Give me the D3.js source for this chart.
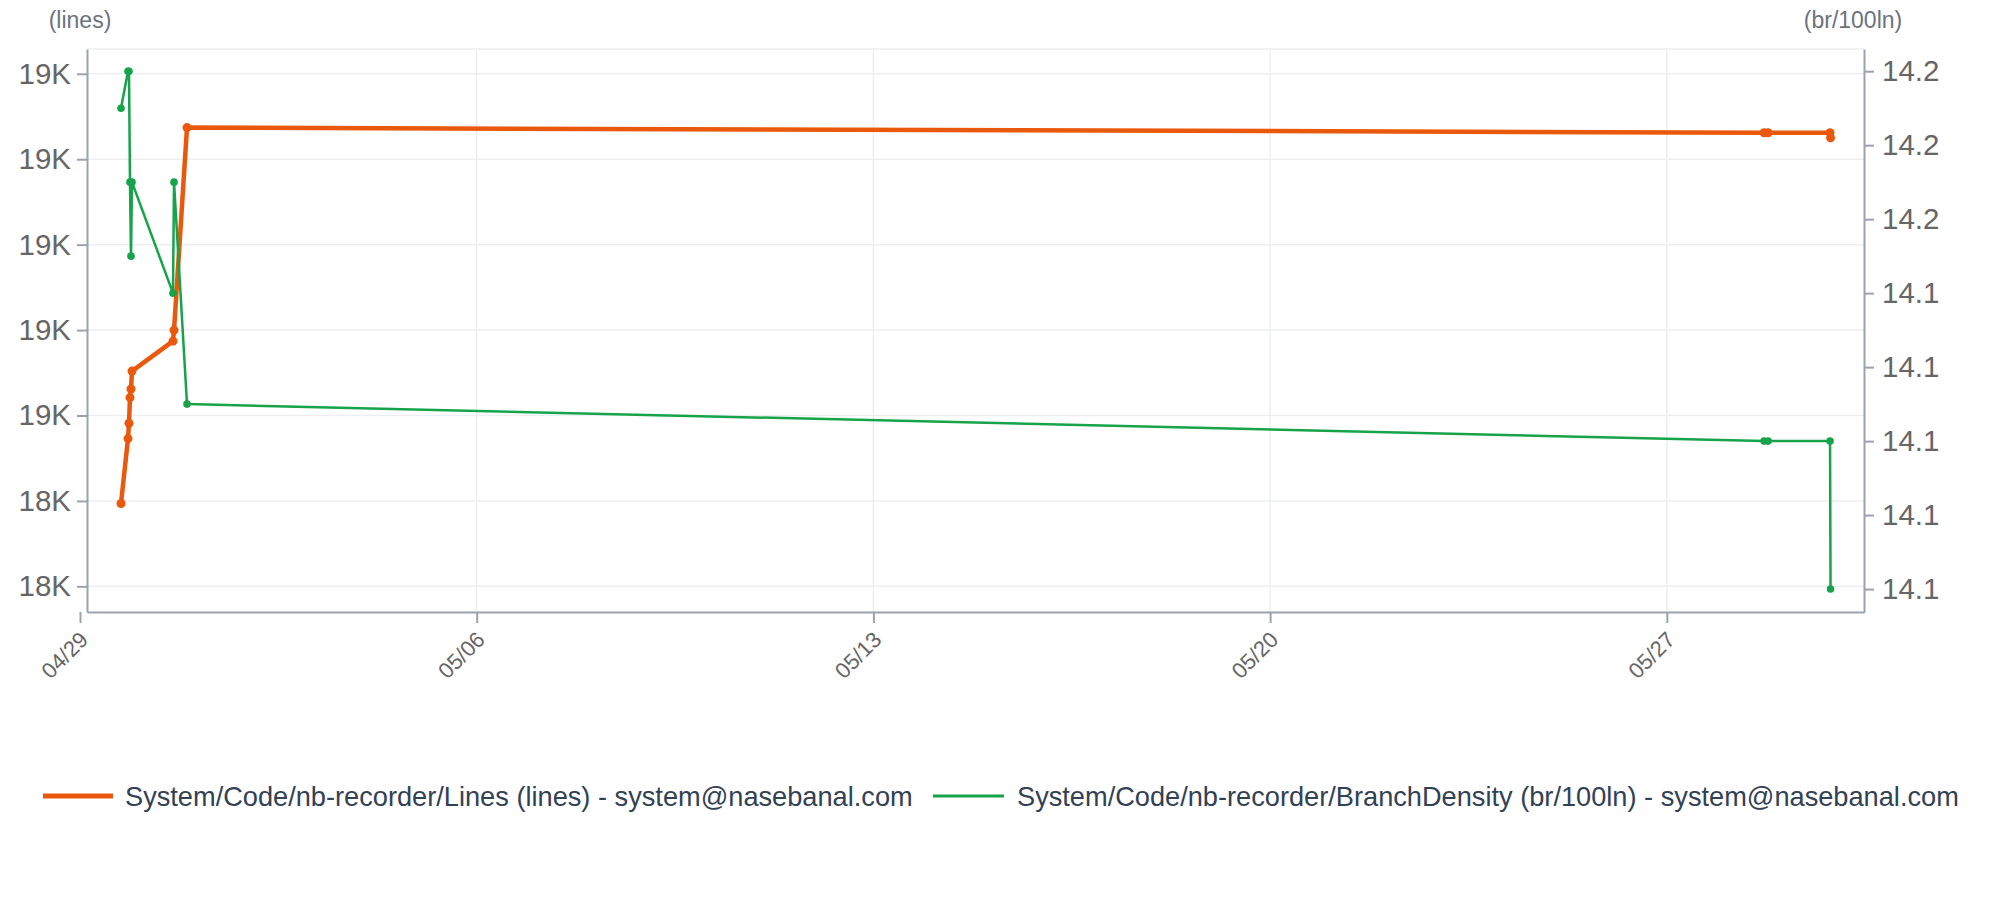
<!DOCTYPE html>
<html>
<head>
<meta charset="utf-8">
<script src="https://cdn.jsdelivr.net/npm/d3@7"></script>
<style>
  html, body { margin: 0; padding: 0; background: #ffffff; }
  svg { display: block; font-family: "Liberation Sans", Arial, Helvetica, sans-serif; }
</style>
</head>
<body>
<script>
// ---------------- data ----------------
const timestamps = [
  "2024-04-29T17:22", "2024-04-29T20:20", "2024-04-29T20:45", "2024-04-29T21:10",
  "2024-04-29T21:36", "2024-04-29T22:01", "2024-04-30T15:23", "2024-04-30T15:49",
  "2024-04-30T21:19", "2024-05-28T17:12", "2024-05-28T18:53", "2024-05-29T21:07",
  "2024-05-29T21:20"
];
const linesValues = [
  18397, 18473, 18491, 18521, 18531, 18552, 18587, 18600,
  18837, 18831, 18831, 18831, 18825
];
const densityValues = [
  14.165, 14.170, 14.170, 14.155, 14.145, 14.155, 14.140, 14.155,
  14.125, 14.120, 14.120, 14.120, 14.100
];
const xDomain = ["2024-04-29T02:58", "2024-05-30T11:30"];
const xTickDates = ["2024-04-29T00:00", "2024-05-06T00:00", "2024-05-13T00:00", "2024-05-20T00:00", "2024-05-27T00:00"];
const xTickLabels = ["04/29", "05/06", "05/13", "05/20", "05/27"];
const leftTicks = [18300, 18400, 18500, 18600, 18700, 18800, 18900];
const leftDomain = [18270, 18929];
const rightTicks = [14.10, 14.11, 14.12, 14.13, 14.14, 14.15, 14.16, 14.17];
const rightDomain = [14.0969, 14.1730];
const seriesNames = [
  "System/Code/nb-recorder/Lines (lines) - system@nasebanal.com",
  "System/Code/nb-recorder/BranchDensity (br/100ln) - system@nasebanal.com"
];
const axisTitles = ["(lines)", "(br/100ln)"];

// ---------------- layout ----------------
const W = 2000, H = 909;
const plot = { left: 87, right: 1864, top: 49, bottom: 612 };
const ORANGE = "#ea580c", GREEN = "#16a34a";
const AXIS = "#9ca3af", GRID = "#eceef2", TICKTXT = "#666666";

const parse = d3.utcParse("%Y-%m-%dT%H:%M");
const times = timestamps.map(parse);

const x = d3.scaleUtc().domain(xDomain.map(parse)).range([plot.left, plot.right]);
const yL = d3.scaleLinear().domain(leftDomain).range([plot.bottom, plot.top]);
const yR = d3.scaleLinear().domain(rightDomain).range([plot.bottom, plot.top]);

const svg = d3.select("body").append("svg").attr("width", W).attr("height", H);

// grid
const grid = svg.append("g");
grid.selectAll("line.h").data(leftTicks).join("line")
  .attr("x1", plot.left).attr("x2", plot.right)
  .attr("y1", d => yL(d)).attr("y2", d => yL(d))
  .attr("stroke", GRID).attr("stroke-width", 1.5);
grid.selectAll("line.v").data(xTickDates.map(parse).filter(d => x(d) > plot.left)).join("line")
  .attr("x1", d => x(d)).attr("x2", d => x(d))
  .attr("y1", plot.top).attr("y2", plot.bottom)
  .attr("stroke", GRID).attr("stroke-width", 1.5);
grid.append("line").attr("x1", plot.left).attr("x2", plot.right)
  .attr("y1", plot.top).attr("y2", plot.top).attr("stroke", GRID).attr("stroke-width", 1.5);

// axes
const fmtK = d => Math.round(d / 1000) + "K";
const fmtR = d => d.toFixed(1);

const gL = svg.append("g").attr("transform", `translate(${plot.left},0)`)
  .call(d3.axisLeft(yL).tickValues(leftTicks).tickFormat(fmtK).tickSize(10).tickPadding(6).tickSizeOuter(0));
const gR = svg.append("g").attr("transform", `translate(${plot.right},0)`)
  .call(d3.axisRight(yR).tickValues(rightTicks).tickFormat(fmtR).tickSize(10).tickPadding(8).tickSizeOuter(0));
const gX = svg.append("g").attr("transform", `translate(0,${plot.bottom})`)
  .call(d3.axisBottom(x).tickValues(xTickDates.map(parse)).tickFormat((d, i) => xTickLabels[i]).tickSize(11).tickSizeOuter(0));

[gL, gR, gX].forEach(g => {
  g.select(".domain").attr("stroke", AXIS).attr("stroke-width", 2);
  g.selectAll(".tick line").attr("stroke", AXIS).attr("stroke-width", 2);
  g.selectAll(".tick text").attr("fill", TICKTXT).attr("font-family", "Liberation Sans, Arial, sans-serif");
});
gL.selectAll(".tick text").attr("font-size", 29.5);
gR.selectAll(".tick text").attr("font-size", 29.5);
gX.selectAll(".tick text")
  .attr("font-size", 22)
  .attr("y", 0).attr("dy", 0)
  .attr("text-anchor", "end")
  .attr("transform", "translate(9,29) rotate(-45)");

// axis titles
svg.append("text").attr("x", 80).attr("y", 20).attr("dy", "0.35em")
  .attr("text-anchor", "middle").attr("font-size", 23).attr("fill", "#6b7280").text(axisTitles[0]);
svg.append("text").attr("x", 1853).attr("y", 20).attr("dy", "0.35em")
  .attr("text-anchor", "middle").attr("font-size", 23).attr("fill", "#6b7280").text(axisTitles[1]);

// series
const dataL = times.map((t, i) => ({ t, v: linesValues[i] }));
const dataR = times.map((t, i) => ({ t, v: densityValues[i] }));

const lineL = d3.line().x(d => x(d.t)).y(d => yL(d.v));
const lineR = d3.line().x(d => x(d.t)).y(d => yR(d.v));

svg.append("path").datum(dataL).attr("d", lineL)
  .attr("fill", "none").attr("stroke", ORANGE).attr("stroke-width", 4.5).attr("stroke-linejoin", "round");
svg.append("g").selectAll("circle").data(dataL).join("circle")
  .attr("cx", d => x(d.t)).attr("cy", d => yL(d.v)).attr("r", 4.5).attr("fill", ORANGE);

svg.append("path").datum(dataR).attr("d", lineR)
  .attr("fill", "none").attr("stroke", GREEN).attr("stroke-width", 2.5).attr("stroke-linejoin", "round");
svg.append("g").selectAll("circle").data(dataR).join("circle")
  .attr("cx", d => x(d.t)).attr("cy", d => yR(d.v)).attr("r", 3.8).attr("fill", GREEN);

// legend
const legend = svg.append("g").attr("font-size", 27.2).attr("fill", "#334155");
legend.append("line").attr("x1", 43).attr("x2", 113).attr("y1", 796).attr("y2", 796)
  .attr("stroke", ORANGE).attr("stroke-width", 5);
legend.append("text").attr("x", 125).attr("y", 796).attr("dy", "0.35em").text(seriesNames[0]);
legend.append("line").attr("x1", 933).attr("x2", 1004).attr("y1", 796).attr("y2", 796)
  .attr("stroke", GREEN).attr("stroke-width", 3);
legend.append("text").attr("x", 1017).attr("y", 796).attr("dy", "0.35em").text(seriesNames[1]);
</script>
</body>
</html>
